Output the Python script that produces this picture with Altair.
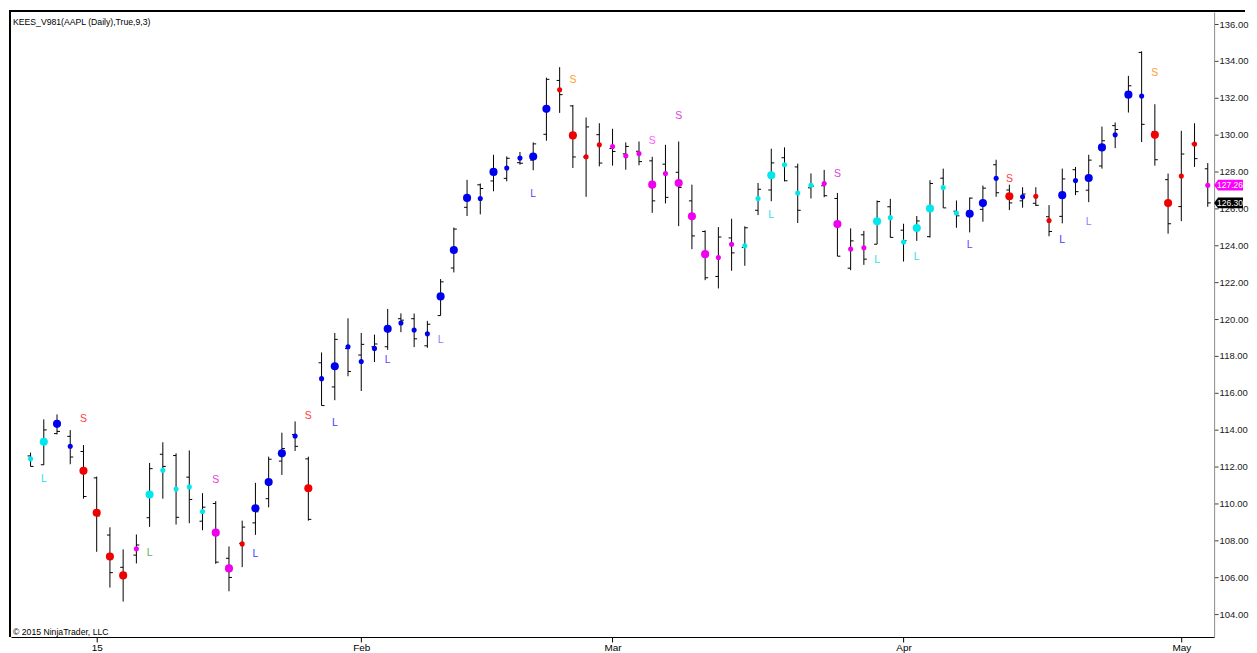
import altair as alt
import pandas as pd

FONT = "Liberation Sans"

# ---- data ----
# bar index 0 = 24 Dec 2014 ... 89 = 5 May 2015
tick_idx = [5, 25, 44, 66, 87]
tick_text = ["15", "Feb", "Mar", "Apr", "May"]
y_ticks = [104, 106, 108, 110, 112, 114, 116, 118, 120, 122, 124, 126, 128, 130, 132, 134, 136]

opens = [112.58, 112.10, 113.79, 113.64, 112.82, 111.39, 108.29, 106.54, 107.20, 109.23,
         112.67, 112.60, 111.43, 109.04, 110.00, 107.03, 107.84, 108.95, 110.26, 112.30,
         113.74, 112.42, 117.63, 116.32, 118.40, 118.05, 118.50, 118.50, 120.02, 120.02,
         118.55, 120.19, 122.77, 126.06, 127.28, 127.49, 127.63, 128.48, 128.62, 130.02,
         132.94, 131.56, 128.79, 130.00, 129.25, 128.96, 129.10, 128.58, 128.40, 127.96,
         126.41, 124.75, 122.31, 124.40, 123.88, 125.90, 127.00, 128.75, 128.25, 127.12,
         127.23, 126.54, 122.76, 124.57, 124.06, 126.09, 124.82, 125.03, 124.47, 127.64,
         125.85, 125.85, 125.95, 128.37, 127.00, 126.41, 126.28, 125.55, 125.57, 128.10,
         126.99, 128.30, 130.49, 132.31, 134.46, 130.16, 127.56, 126.10, 129.50, 128.15]
highs = [112.76, 114.56, 114.83, 113.98, 113.17, 111.46, 108.71, 107.51, 108.32, 112.20,
         113.32, 112.72, 112.88, 110.56, 110.13, 107.67, 109.07, 111.12, 112.54, 113.84,
         114.45, 112.54, 118.19, 119.25, 120.04, 119.25, 119.16, 120.55, 120.31, 120.30,
         119.90, 122.17, 124.96, 127.55, 127.35, 128.91, 128.82, 129.06, 129.58, 133.09,
         133.66, 131.61, 130.93, 130.62, 130.32, 129.58, 129.63, 128.80, 129.45, 129.63,
         127.29, 124.81, 124.99, 125.44, 125.03, 127.38, 129.24, 129.31, 128.43, 127.90,
         128.09, 126.84, 124.92, 124.78, 126.43, 126.52, 125.17, 125.59, 127.53, 128.16,
         126.43, 126.59, 127.24, 128.64, 127.29, 127.15, 127.15, 126.18, 128.16, 128.25,
         128.91, 130.44, 130.66, 133.19, 134.52, 131.65, 127.89, 130.21, 130.62, 128.46]
lows = [112.01, 112.09, 113.75, 112.13, 110.26, 107.38, 105.44, 104.68, 106.75, 108.73,
        110.26, 108.86, 108.93, 108.55, 106.73, 105.24, 106.55, 108.30, 109.79, 111.55,
        112.85, 109.07, 115.31, 115.60, 116.90, 116.10, 117.67, 118.33, 119.29, 118.48,
        118.44, 120.19, 122.53, 125.59, 125.68, 126.93, 127.47, 128.37, 128.07, 129.67,
        131.18, 128.19, 126.63, 128.28, 128.32, 128.10, 128.34, 125.76, 126.27, 125.04,
        123.79, 122.11, 121.66, 122.62, 122.89, 125.64, 126.39, 127.47, 125.21, 126.54,
        126.61, 123.41, 122.65, 122.94, 124.06, 124.42, 123.12, 124.24, 124.42, 126.03,
        124.95, 124.70, 125.28, 126.63, 125.91, 126.04, 126.13, 124.49, 125.19, 126.72,
        126.34, 128.16, 129.27, 131.20, 129.60, 128.32, 124.63, 125.31, 128.25, 126.09]
closes = [112.01, 113.99, 113.91, 112.52, 110.38, 109.33, 106.25, 106.26, 107.75, 111.89,
          112.01, 109.25, 110.22, 109.80, 106.82, 105.99, 108.72, 109.55, 112.40, 112.98,
          113.10, 109.14, 115.31, 118.90, 117.16, 118.63, 118.65, 119.56, 119.94, 118.93,
          119.72, 122.02, 124.88, 126.46, 127.08, 127.83, 128.72, 128.45, 129.50, 133.00,
          132.17, 128.79, 130.42, 128.46, 129.09, 129.36, 128.54, 126.41, 126.60, 127.14,
          124.51, 122.24, 124.45, 123.59, 124.95, 127.04, 128.47, 127.50, 125.90, 127.21,
          126.69, 123.41, 124.24, 123.25, 126.37, 124.43, 124.25, 125.32, 127.35, 126.03,
          125.60, 126.56, 127.10, 126.85, 126.30, 126.78, 126.17, 124.75, 127.60, 126.91,
          128.62, 129.67, 130.28, 132.65, 130.56, 128.64, 125.17, 128.95, 128.70, 126.30]
dots = [112.42, 113.35, 114.32, 113.10, 111.77, 109.50, 107.13, 106.10, 107.54, 110.49,
        111.80, 110.78, 110.90, 109.57, 108.42, 106.48, 107.81, 109.74, 111.16, 112.72,
        113.66, 110.83, 116.77, 117.44, 118.50, 117.70, 118.41, 119.47, 119.79, 119.41,
        119.20, 121.23, 123.75, 126.57, 126.54, 127.98, 128.19, 128.73, 128.82, 131.40,
        132.44, 129.96, 128.80, 129.45, 129.36, 128.86, 128.98, 127.29, 127.89, 127.38,
        125.58, 123.52, 123.34, 124.06, 123.97, 126.54, 127.80, 128.37, 126.84, 127.26,
        127.35, 125.15, 123.80, 123.87, 125.30, 125.50, 124.18, 124.94, 126.00, 127.13,
        125.75, 125.71, 126.29, 127.64, 126.66, 126.63, 126.66, 125.35, 126.72, 127.51,
        127.65, 129.31, 129.99, 132.17, 132.10, 129.99, 126.29, 127.76, 129.49, 127.26]
# dot state: b = blue, c = cyan, r = red, m = magenta
states = list("ccbbrrrrmc" + "ccccmmrbbb" + "brbbbbbbbb" + "bbbbbbbbbb" + "rrrrmmmmmm"
              + "mmmmcccccc" + "mmmmcccccc" + "cbbbrbrrbb" + "bbbbbrrrrm")
# dot size: L = large, s = small
sizes = list("sLLsLLLLsL" + "ssssLLsLLL" + "sLsLsssLss" + "sLLLsLssLL" + "sLsssssLsL"
             + "LLssssLsss" + "sLssLssLLs" + "sLLsLsssLs" + "LLsLsLLsss")

sig_idx = [1, 4, 9, 14, 17, 21, 23, 27, 31, 38, 41, 47, 49, 56, 61, 64, 67, 71, 74, 78, 80, 85]
sig_text = ["L", "S", "L", "S", "L", "S", "L", "L", "L", "L", "S",
            "S", "S", "L", "S", "L", "L", "L", "S", "L", "L", "S"]
sig_price = [111.34, 114.58, 107.34, 111.28, 107.24, 114.75, 114.38, 117.76, 118.84, 126.79, 132.96,
             129.63, 131.02, 125.64, 127.87, 123.19, 123.37, 124.04, 127.62, 124.27, 125.28, 133.32]
sig_kind = ["cyan", "red", "green", "magenta", "blue", "red", "blue", "violet", "lavender", "violet",
            "orange", "pink", "magenta", "cyan", "magenta", "cyan", "cyan", "violet", "red", "blue",
            "lavender", "orange"]

title_text = "KEES_V981(AAPL (Daily),True,9,3)"
copyright_text = "\u00a9 2015 NinjaTrader, LLC"

# ---- tables ----
n = len(closes)
bars = pd.DataFrame({
    "i": list(range(n)), "open": opens, "high": highs, "low": lows,
    "close": closes, "dot": dots, "state": states, "size": sizes,
})
sigs = pd.DataFrame({"i": sig_idx, "t": sig_text, "p": sig_price, "k": sig_kind})
last = pd.DataFrame({"p": [dots[-1], closes[-1]], "lab": [f"{dots[-1]:.2f}", f"{closes[-1]:.2f}"],
                     "k": ["dot", "close"]})

label_expr = "''"
for v, t in reversed(list(zip(tick_idx, tick_text))):
    label_expr = f"datum.value == {v} ? '{t}' : ({label_expr})"

xscale = alt.Scale(domain=[-1.48, 89.48], nice=False, zero=False)
yscale = alt.Scale(domain=[102.76, 136.65], nice=False, zero=False)

x_axis = alt.Axis(values=tick_idx, labelExpr=label_expr, title=None, grid=False,
                  domainColor="#000000", domainWidth=1, tickColor="#000000", tickSize=5,
                  labelPadding=1, labelFontSize=10, labelFont=FONT, labelColor="#000000",
                  labelFlush=False, labelOverlap=False, zindex=0)
y_axis = alt.Axis(orient="right", values=y_ticks, format=".2f", title=None, grid=False,
                  domainColor="#8c8c8c", domainWidth=1, tickColor="#404040", tickSize=4,
                  labelPadding=1, labelFontSize=9.5, labelFont=FONT, labelColor="#202020",
                  labelOverlap=False, zindex=0)

X = alt.X("i:Q", scale=xscale, axis=x_axis)
Y = lambda f: alt.Y(f"{f}:Q", scale=yscale, axis=y_axis)

base = alt.Chart(bars)

hl = base.mark_rule(color="#000000", strokeWidth=1).encode(x=X, y=Y("low"), y2="high:Q")
op = base.mark_rule(color="#000000", strokeWidth=1, xOffset=-3, x2Offset=0).encode(
    x=X, x2="i:Q", y=Y("open"))
cl = base.mark_rule(color="#000000", strokeWidth=1, xOffset=0, x2Offset=3).encode(
    x=X, x2="i:Q", y=Y("close"))
dot_layer = base.mark_circle(opacity=1).encode(
    x=X, y=Y("dot"),
    color=alt.Color("state:N", scale=alt.Scale(domain=["b", "c", "r", "m"],
                                              range=["#0000F0", "#00E8EE", "#F00000", "#F000F0"]),
                    legend=None),
    size=alt.Size("size:N", scale=alt.Scale(domain=["s", "L"], range=[26, 66]), legend=None),
)

sig_layer = alt.Chart(sigs).mark_text(font=FONT, fontSize=10.5, baseline="middle", align="center").encode(
    x=X, y=Y("p"), text="t:N",
    color=alt.Color("k:N", scale=alt.Scale(
        domain=["cyan", "red", "green", "magenta", "blue", "violet", "lavender", "orange", "pink"],
        range=["#30E0E8", "#FF4040", "#5FAF5F", "#E040E0", "#3C3CFF", "#6A40FF", "#8880FF",
               "#FFA030", "#FF60FF"]), legend=None),
)

# last-value price markers on the right axis
box_path = "M-1,0L-0.73,-0.37L1,-0.37L1,0.37L-0.73,0.37Z"
last_box = alt.Chart(last).mark_point(shape=box_path, filled=True, opacity=1, strokeWidth=0).encode(
    x=alt.value(1221.5), y=Y("p"), size=alt.value(841),
    color=alt.Color("k:N", scale=alt.Scale(domain=["dot", "close"], range=["#FF00FF", "#000000"]),
                    legend=None),
)
last_txt = alt.Chart(last).mark_text(font=FONT, fontSize=8.5, color="#FFFFFF", baseline="middle",
                                     align="center").encode(
    x=alt.value(1223), y=Y("p"), text="lab:N")

# frame borders (left and top) and texts
frame_df = pd.DataFrame({"k": ["frame"]})
left_border = alt.Chart(frame_df).mark_rule(color="#000000", strokeWidth=2).encode(
    x=alt.value(-1), y=alt.value(-2), y2=alt.value(627))
top_border = alt.Chart(frame_df).mark_rule(color="#000000", strokeWidth=2).encode(
    x=alt.value(-2), x2=alt.value(1238), y=alt.value(-1))
title_layer = alt.Chart(pd.DataFrame({"t": [title_text]})).mark_text(
    font=FONT, fontSize=8.7, color="#000000", align="left", baseline="middle").encode(
    x=alt.value(2), y=alt.value(10), text="t:N")
copy_layer = alt.Chart(pd.DataFrame({"t": [copyright_text]})).mark_text(
    font=FONT, fontSize=8.7, color="#000000", align="left", baseline="middle").encode(
    x=alt.value(2), y=alt.value(622), text="t:N")

chart = alt.layer(
    hl, op, cl, dot_layer, sig_layer, last_box, last_txt,
    left_border, top_border, title_layer, copy_layer,
).resolve_scale(
    color="independent", size="independent",
).properties(
    width=1207, height=627,
    padding={"left": 0, "top": 0, "right": 0, "bottom": 0},
).configure_view(stroke=None)

chart.save("out.html", embed_options={"renderer": "svg", "actions": False})
